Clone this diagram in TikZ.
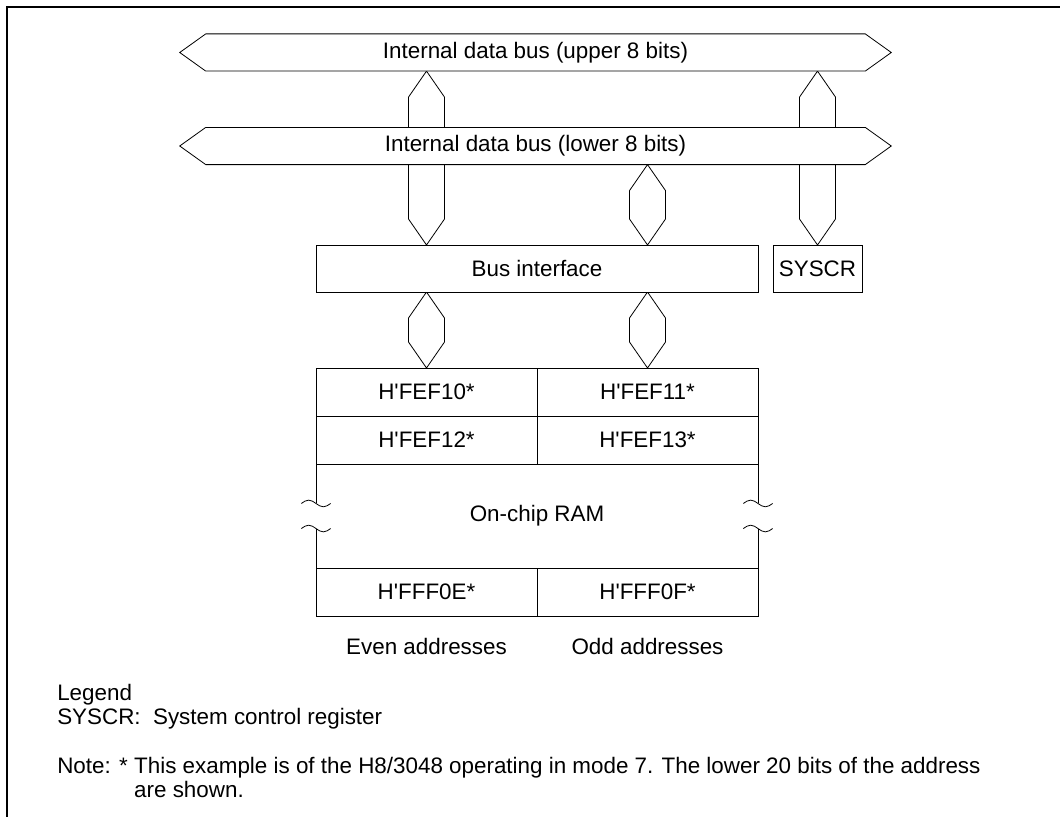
\documentclass[tikz,border=0pt]{standalone}
\usepackage{fontspec}
\setmainfont{Liberation Sans}
\usetikzlibrary{positioning}

\pgfdeclarelayer{links}
\pgfdeclarelayer{shells}
\pgfsetlayers{links,shells,main}

% hexagonal bus link, pointed at both ends
\newcommand{\buslink}[2]{%
  \draw[link] (#1) -- ([xshift=-13.5pt,yshift=-19.5pt]#1)
    -- ([xshift=-13.5pt,yshift=19.5pt]#2) -- (#2)
    -- ([xshift=13.5pt,yshift=19.5pt]#2)
    -- ([xshift=13.5pt,yshift=-19.5pt]#1) -- cycle;}
% outline of a bus, pointed left and right
\newcommand{\busshell}[1]{%
  \draw[shell] (#1.north west) -- (#1.north east)
    -- ([xshift=19.5pt]#1.east) -- (#1.south east)
    -- (#1.south west) -- ([xshift=-19.5pt]#1.west) -- cycle;}
% break marks on a side of the RAM block
\newcommand{\ramcut}[1]{%
  \fill[white] ([xshift=-1.5pt,yshift=9.4pt]#1) rectangle ([xshift=1.5pt,yshift=-9.4pt]#1);
  \foreach \dy in {9.4pt,-9.4pt}
    \draw[line width=0.6pt] ([xshift=-11pt,yshift=\dy]#1) sin ++(5.5pt,2.5pt)
      cos ++(5.5pt,-2.5pt) sin ++(5.5pt,-2.5pt) cos ++(5.5pt,2.5pt);}

\begin{document}
\begin{tikzpicture}[x=0.75pt,y=-0.75pt,
  txt/.style={font=\fontsize{16.8}{20}\selectfont,inner sep=0pt},
  bus/.style={txt,minimum width=494.25pt,minimum height=27.5pt},
  shell/.style={draw,fill=white,line width=0.6pt},
  box/.style={txt,draw,fill=white,line width=0.6pt,outer sep=0pt,
    minimum height=35.25pt},
  cell/.style={box,minimum width=165.75pt,minimum height=36pt},
  link/.style={draw,fill=white,line width=0.6pt},
  frame/.style={line width=1.5pt}
]
\useasboundingbox (0,0) rectangle (1060,817);
\draw[frame] (7,817) -- (7,7) -- (1060,7);

% buses
\node[bus] (ubus) at (535.5,52.5) {Internal data bus (upper 8 bits)};
\node[bus] (lbus) at (535.5,146) {Internal data bus (lower 8 bits)};
\begin{pgfonlayer}{shells}
  \busshell{ubus}
  \busshell{lbus}
\end{pgfonlayer}

% blocks
\node[box,minimum width=331.5pt] (bif) at (537,268.5) {Bus interface};
\node[box,minimum width=66.75pt] (syscr) at (817.5,268.5) {SYSCR};

% on-chip RAM map
\node[cell] (fef10) at (426.5,392) {H\textquotesingle FEF10*};
\node[cell,right=0pt of fef10] (fef11) {H\textquotesingle FEF11*};
\node[cell,below=0pt of fef10] (fef12) {H\textquotesingle FEF12*};
\node[cell,right=0pt of fef12] (fef13) {H\textquotesingle FEF13*};
\node[box,minimum width=331.5pt,minimum height=78pt,
  below=0pt of fef12.south east] (ram) {On-chip RAM};
\node[cell,below right=0pt and 0pt of ram.south west] (fff0e) {H\textquotesingle FFF0E*};
\node[cell,right=0pt of fff0e] (fff0f) {H\textquotesingle FFF0F*};
\ramcut{ram.west}
\ramcut{ram.east}

% links
\coordinate (ul) at (ubus.south -| fef10);
\coordinate (bl) at (bif.north -| fef10);
\coordinate (lm) at (lbus.south -| fef11);
\coordinate (bm) at (bif.north -| fef11);
\coordinate (ur) at (ubus.south -| syscr);
\coordinate (sl) at (bif.south -| fef10);
\coordinate (sm) at (bif.south -| fef11);
\begin{pgfonlayer}{links}
  \buslink{ul}{bl}
  \buslink{lm}{bm}
  \buslink{ur}{syscr.north}
  \buslink{sl}{fef10.north}
  \buslink{sm}{fef11.north}
\end{pgfonlayer}

\node[txt] (even) at (426.5,646) {Even addresses};
\node[txt] (odd) at (647.5,646) {Odd addresses};

% legend and note
\node[txt,anchor=base west] (legend) at (57,700) {Legend};
\node[txt,anchor=base west] (key) at ([yshift=-18pt]legend.base west)
  {SYSCR:\ \ System control register};
\node[txt,anchor=base west] (notehead) at (57,773) {Note: *};
\node[txt,anchor=base west] (notebody) at ([xshift=4.4pt]notehead.base east)
  {This example is of the H8/3048 operating in mode 7. The lower 20 bits of the address};
\node[txt,anchor=base west] (notetail) at ([yshift=-18pt]notebody.base west)
  {are shown.};
\end{tikzpicture}
\end{document}
